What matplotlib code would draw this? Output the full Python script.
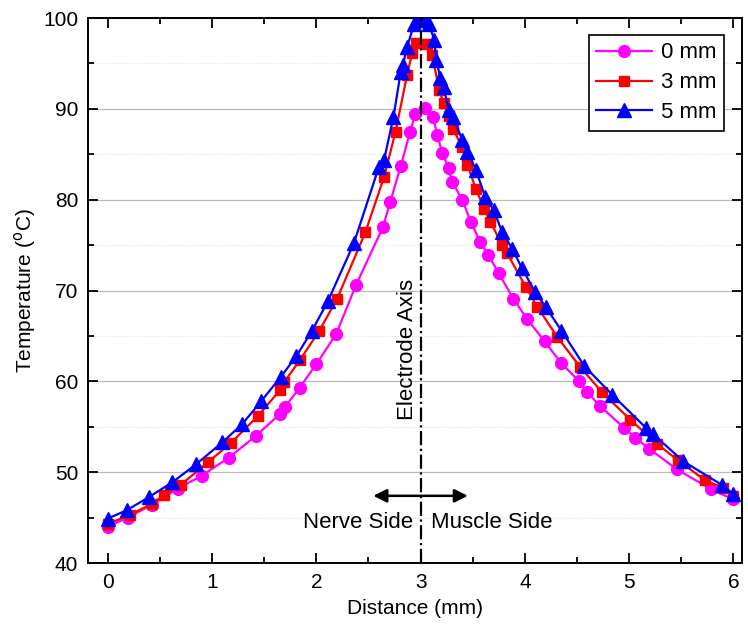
import matplotlib
matplotlib.use("Agg")
import matplotlib.pyplot as plt
from matplotlib.ticker import MultipleLocator

plt.rcParams["font.family"] = ["Liberation Sans", "DejaVu Sans"]

# 0 mm
x0 = [0, 0.19, 0.42, 0.67, 0.90, 1.16, 1.42, 1.65, 1.70, 1.84, 2.00, 2.19, 2.38, 2.64, 2.71,
      2.81, 2.90, 2.95, 3.04, 3.12, 3.16, 3.21, 3.27, 3.30, 3.40, 3.48, 3.57, 3.65, 3.75, 3.89,
      4.02, 4.19, 4.35, 4.52, 4.60, 4.72, 4.95, 5.06, 5.19, 5.46, 5.79, 6.0]
t0 = [44.0, 45.0, 46.4, 48.2, 49.6, 51.6, 54.0, 56.4, 57.2, 59.3, 61.9, 65.2, 70.6, 77.0, 79.8,
      83.7, 87.5, 89.4, 90.1, 89.1, 87.1, 85.1, 83.5, 82.0, 80.0, 77.6, 75.4, 73.9, 71.9, 69.1,
      66.9, 64.4, 62.0, 60.0, 58.8, 57.3, 54.9, 53.8, 52.6, 50.3, 48.1, 47.0]

# 3 mm
x3 = [0, 0.21, 0.42, 0.54, 0.70, 0.96, 1.18, 1.44, 1.65, 1.69, 1.84, 2.03, 2.20, 2.47, 2.65,
      2.76, 2.87, 2.92, 2.96, 3.06, 3.11, 3.18, 3.22, 3.27, 3.31, 3.40, 3.45, 3.53, 3.61, 3.67,
      3.78, 3.83, 4.01, 4.12, 4.31, 4.53, 4.74, 5.01, 5.27, 5.47, 5.73, 5.90, 6.0]
t3 = [44.3, 45.3, 46.5, 47.5, 48.6, 51.1, 53.2, 56.2, 59.0, 59.9, 62.3, 65.6, 69.1, 76.4, 82.5,
      87.5, 93.7, 96.2, 97.3, 97.2, 95.9, 92.1, 90.6, 89.2, 87.8, 85.8, 83.8, 81.2, 79.0, 77.6,
      75.0, 74.1, 70.4, 68.2, 64.9, 61.6, 58.8, 55.8, 53.1, 51.3, 49.1, 48.3, 47.4]

# 5 mm
x5 = [0, 0.18, 0.40, 0.62, 0.85, 1.10, 1.29, 1.47, 1.66, 1.81, 1.96, 2.11, 2.36, 2.60, 2.65,
      2.74, 2.81, 2.83, 2.87, 2.94, 2.97, 3.05, 3.08, 3.13, 3.15, 3.19, 3.22, 3.27, 3.31, 3.40,
      3.45, 3.53, 3.62, 3.70, 3.78, 3.88, 3.97, 4.10, 4.20, 4.35, 4.57, 4.84, 5.16, 5.23, 5.52,
      5.89, 6.0]
t5 = [44.9, 45.8, 47.3, 48.9, 50.9, 53.3, 55.3, 57.8, 60.5, 62.8, 65.6, 68.8, 75.2, 83.6, 84.4,
      89.1, 94.1, 94.8, 96.8, 99.4, 99.8, 99.8, 99.4, 97.6, 95.4, 93.4, 92.4, 89.9, 89.1, 86.6,
      85.3, 83.3, 80.3, 78.9, 76.5, 74.6, 72.5, 69.8, 68.2, 65.6, 61.7, 58.5, 54.9, 54.2, 51.2,
      48.6, 47.6]

fs = 15
fs_txt = 16

fig = plt.figure(figsize=(7.48, 6.3), dpi=100)
ax = fig.add_axes([0.1176, 0.1063, 0.874, 0.865])

ax.plot(x0, t0, color="#FF00FF", marker="o", markersize=8.5, lw=1.6, label="0 mm", zorder=3)
ax.plot(x3, t3, color="#FF0000", marker="s", markersize=7.5, lw=1.6, label="3 mm", zorder=3)
ax.plot(x5, t5, color="#0000FF", marker="^", markersize=9.5, lw=1.6, label="5 mm", zorder=3)

# electrode axis
ax.axvline(3.0, color="black", linestyle="-.", lw=1.6, zorder=4)
ax.text(2.87, 63.5, "Electrode Axis", rotation=90, ha="center", va="center", fontsize=fs_txt)

ax.annotate("", xy=(2.52, 47.4), xytext=(3.48, 47.4),
            arrowprops=dict(arrowstyle="<|-|>", color="black", lw=1.8, mutation_scale=20))
ax.text(2.93, 44.5, "Nerve Side", ha="right", va="center", fontsize=fs_txt)
ax.text(3.1, 44.5, "Muscle Side", ha="left", va="center", fontsize=fs_txt)

ax.set_xlim(-0.19, 6.08)
ax.set_ylim(40, 100)
ax.xaxis.set_major_locator(MultipleLocator(1))
ax.xaxis.set_minor_locator(MultipleLocator(0.5))
ax.yaxis.set_major_locator(MultipleLocator(10))
ax.yaxis.set_minor_locator(MultipleLocator(5))
ax.tick_params(which="both", direction="in", top=True, right=True, labelsize=fs, width=1.3)
ax.tick_params(which="major", length=7, pad=7)
ax.tick_params(which="minor", length=4)
for s in ax.spines.values():
    s.set_linewidth(1.4)

ax.grid(axis="y", which="major", color="#bbbbbb", lw=0.9, zorder=0)
ax.grid(axis="y", which="minor", color="#dddddd", lw=0.8, linestyle=":", zorder=0)
ax.set_axisbelow(True)

ax.set_xlabel("Distance (mm)", fontsize=fs, labelpad=5)
ax.set_ylabel("Temperature ($^{\\mathrm{o}}$C)", fontsize=fs, labelpad=4)

leg = ax.legend(loc="upper right", fontsize=fs_txt, fancybox=False, edgecolor="black",
                framealpha=1, handlelength=2.5, borderpad=0.35, labelspacing=0.4,
                handletextpad=0.4, bbox_to_anchor=(0.99, 0.99))
leg.get_frame().set_linewidth(1.2)

fig.savefig("out.png", dpi=100)
